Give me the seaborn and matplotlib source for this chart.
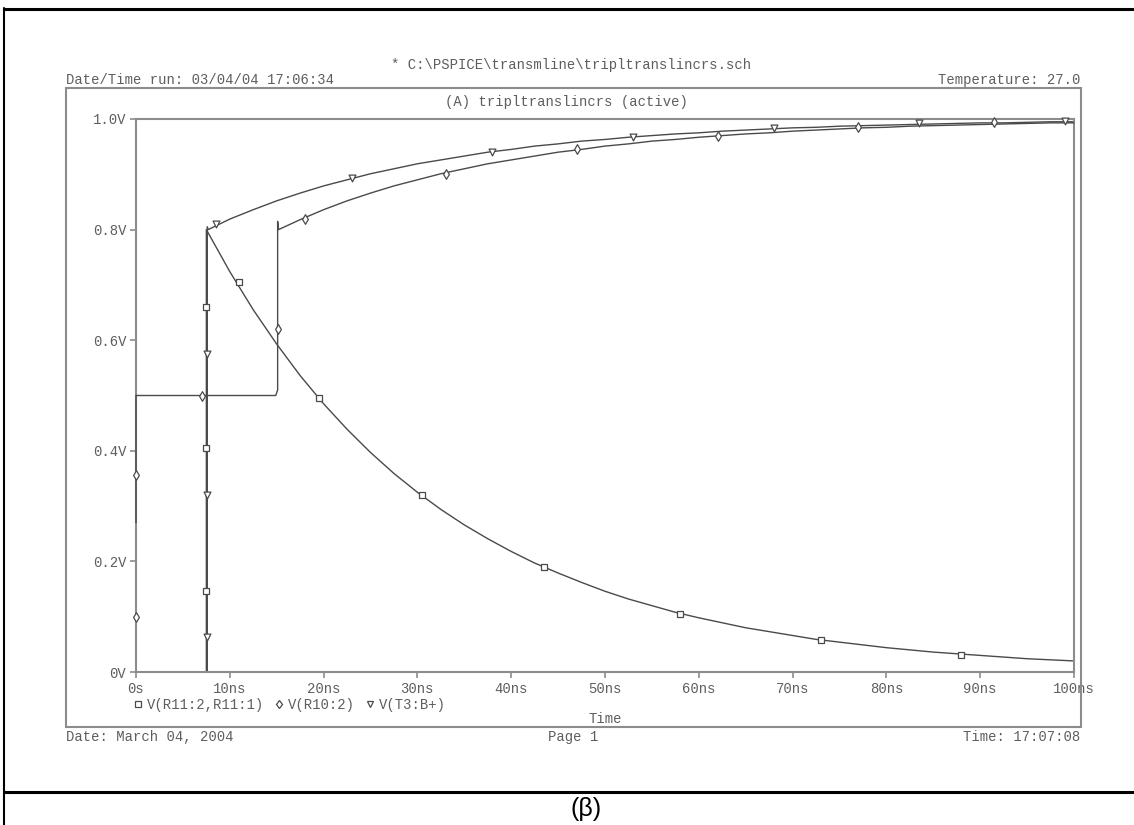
import matplotlib
matplotlib.use("Agg")
import matplotlib.pyplot as plt
from matplotlib.lines import Line2D
from matplotlib.patches import Rectangle
import seaborn as sns
import pandas as pd

# ---- trace data (time in ns, voltage in V) ----
t_r11 = [0.0, 7.5, 7.5, 10.0, 12.5, 15.0, 17.5, 20.0, 22.5, 25.0, 27.5, 30.0, 32.5, 35.0,
         37.5, 40.0, 42.5, 45.0, 47.5, 50.0, 52.5, 55.0, 57.5, 60.0, 62.5, 65.0, 67.5,
         70.0, 72.5, 75.0, 77.5, 80.0, 82.5, 85.0, 87.5, 90.0, 92.5, 95.0, 97.5, 100.0]
v_r11 = [0.0, 0.0, 0.800, 0.724, 0.655, 0.593, 0.536, 0.485, 0.439, 0.397, 0.359, 0.325,
         0.294, 0.266, 0.241, 0.218, 0.197, 0.179, 0.162, 0.146, 0.132, 0.120, 0.108,
         0.098, 0.089, 0.080, 0.073, 0.066, 0.059, 0.054, 0.049, 0.044, 0.040, 0.036,
         0.033, 0.030, 0.027, 0.024, 0.022, 0.020]

t_r10 = [0.0, 0.0, 14.9, 15.1, 15.1, 15.2, 17.5, 20.0, 22.5, 25.0, 27.5, 30.0, 32.5, 35.0,
         37.5, 40.0, 42.5, 45.0, 47.5, 50.0, 52.5, 55.0, 57.5, 60.0, 62.5, 65.0, 67.5,
         70.0, 72.5, 75.0, 77.5, 80.0, 82.5, 85.0, 87.5, 90.0, 92.5, 95.0, 97.5, 100.0]
v_r10 = [0.27, 0.500, 0.500, 0.510, 0.815, 0.800, 0.818, 0.836, 0.852, 0.866, 0.879, 0.890,
         0.901, 0.910, 0.919, 0.926, 0.933, 0.940, 0.945, 0.951, 0.955, 0.960, 0.963,
         0.967, 0.970, 0.973, 0.975, 0.978, 0.980, 0.982, 0.984, 0.985, 0.987, 0.988,
         0.989, 0.990, 0.991, 0.992, 0.993, 0.993]

t_t3 = [0.0, 7.6, 7.6, 7.7, 10.0, 12.5, 15.0, 17.5, 20.0, 22.5, 25.0, 27.5, 30.0, 32.5,
        35.0, 37.5, 40.0, 42.5, 45.0, 47.5, 50.0, 52.5, 55.0, 57.5, 60.0, 62.5, 65.0,
        67.5, 70.0, 72.5, 75.0, 77.5, 80.0, 82.5, 85.0, 87.5, 90.0, 92.5, 95.0, 97.5, 100.0]
v_t3 = [0.0, 0.0, 0.805, 0.800, 0.819, 0.836, 0.852, 0.866, 0.879, 0.890, 0.901, 0.910,
        0.919, 0.926, 0.933, 0.940, 0.945, 0.951, 0.955, 0.960, 0.963, 0.967, 0.970,
        0.973, 0.975, 0.978, 0.980, 0.982, 0.984, 0.985, 0.987, 0.988, 0.989, 0.990,
        0.991, 0.992, 0.993, 0.993, 0.994, 0.995, 0.995]

# symbol positions along each trace
mk_r11_t = [7.5, 7.5, 7.5, 11.0, 19.5, 30.5, 43.5, 58.0, 73.0, 88.0]
mk_r11_v = [0.147, 0.405, 0.660, 0.705, 0.495, 0.320, 0.190, 0.105, 0.057, 0.030]
mk_r10_t = [0.0, 0.0, 7.0, 15.1, 18.0, 33.0, 47.0, 62.0, 77.0, 91.5]
mk_r10_v = [0.100, 0.357, 0.500, 0.620, 0.820, 0.900, 0.945, 0.970, 0.985, 0.995]
mk_t3_t = [7.6, 7.6, 7.6, 8.5, 23.0, 38.0, 53.0, 68.0, 83.5, 99.0]
mk_t3_v = [0.063, 0.320, 0.575, 0.810, 0.893, 0.941, 0.968, 0.984, 0.992, 0.996]

trace_names = ["V(R11:2,R11:1)", "V(R10:2)", "V(T3:B+)"]
trace_markers = ["s", "d", "v"]

x_ticks = [0, 10, 20, 30, 40, 50, 60, 70, 80, 90, 100]
x_labels = ["0s", "10ns", "20ns", "30ns", "40ns", "50ns", "60ns", "70ns", "80ns", "90ns", "100ns"]
y_ticks = [0.0, 0.2, 0.4, 0.6, 0.8, 1.0]
y_labels = ["0V", "0.2V", "0.4V", "0.6V", "0.8V", "1.0V"]

# ---- styling ----
sns.set_theme(style="white")
plt.rcParams["font.family"] = ["Liberation Mono", "DejaVu Sans Mono"]
TXT = "#5e5e5e"
FRAME = "#8c8c8c"
TRACE = "#4a4a4a"
FS = 10

W, H = 1134, 825
fig = plt.figure(figsize=(W / 100, H / 100), dpi=100)
fig.patch.set_facecolor("white")


def fx(px):
    return px / W


def fy(py):
    return 1 - py / H


ax = fig.add_axes([fx(136), fy(672), fx(1074) - fx(136), fy(119) - fy(672)])
ax.set_facecolor("white")

traces = [(t_r11, v_r11), (t_r10, v_r10), (t_t3, v_t3)]
marks = [(mk_r11_t, mk_r11_v), (mk_r10_t, mk_r10_v), (mk_t3_t, mk_t3_v)]
line_z = [2, 3, 2]

for (tt, vv), (mt, mv), m, z in zip(traces, marks, trace_markers, line_z):
    df = pd.DataFrame({"t": tt, "v": vv})
    sns.lineplot(data=df, x="t", y="v", sort=False, estimator=None, ax=ax,
                 color=TRACE, lw=1.0, clip_on=False, zorder=z)
    dm = pd.DataFrame({"t": mt, "v": mv})
    sns.scatterplot(data=dm, x="t", y="v", ax=ax, marker=m, s=24,
                    facecolor="white", edgecolor=TRACE, linewidth=0.9,
                    zorder=5, clip_on=False)

ax.set_xlim(0, 100)
ax.set_ylim(0, 1.0)
ax.set_xticks(x_ticks)
ax.set_xticklabels(x_labels)
ax.set_yticks(y_ticks)
ax.set_yticklabels(y_labels)
ax.set_xlabel("")
ax.set_ylabel("")
for s in ax.spines.values():
    s.set_visible(True)
    s.set_color(FRAME)
    s.set_linewidth(1.5)
ax.tick_params(axis="both", direction="out", length=4, width=1.2, color=FRAME,
               labelcolor=TXT, labelsize=FS, pad=3)
ax.tick_params(axis="x", bottom=True)
ax.tick_params(axis="y", left=True)

# legend row beneath the time axis
handles = [Line2D([], [], linestyle="none", marker=m, markersize=4.5,
                  markerfacecolor="white", markeredgecolor=TRACE, markeredgewidth=0.9)
           for m in trace_markers]
leg = fig.legend(handles, trace_names, loc="center left",
                 bbox_to_anchor=(fx(134), fy(705)), ncol=3, frameon=False,
                 handlelength=0.6, handletextpad=0.35, columnspacing=0.75,
                 borderpad=0, borderaxespad=0, fontsize=FS)
for t in leg.get_texts():
    t.set_color(TXT)

# page frame
fig.add_artist(Rectangle((fx(66), fy(727)), fx(1081) - fx(66), fy(88) - fy(727),
                         transform=fig.transFigure, fill=False, edgecolor=FRAME, lw=1.5))

# header / footer text
fig.text(fx(571), fy(65), "* C:\\PSPICE\\transmline\\tripltranslincrs.sch",
         ha="center", va="center", fontsize=FS, color=TXT)
fig.text(fx(66), fy(80), "Date/Time run: 03/04/04 17:06:34",
         ha="left", va="center", fontsize=FS, color=TXT)
fig.text(fx(1080), fy(80), "Temperature: 27.0",
         ha="right", va="center", fontsize=FS, color=TXT)
fig.text(fx(566), fy(102), "(A) tripltranslincrs (active)",
         ha="center", va="center", fontsize=FS, color=TXT)
fig.text(fx(605), fy(719), "Time", ha="center", va="center", fontsize=FS, color=TXT)
fig.text(fx(66), fy(737), "Date: March 04, 2004",
         ha="left", va="center", fontsize=FS, color=TXT)
fig.text(fx(573), fy(737), "Page 1", ha="center", va="center", fontsize=FS, color=TXT)
fig.text(fx(1080), fy(737), "Time: 17:07:08",
         ha="right", va="center", fontsize=FS, color=TXT)

# surrounding table rules and caption
fig.add_artist(Line2D([fx(4), 1], [fy(9), fy(9)], transform=fig.transFigure,
                      color="black", lw=2.2))
fig.add_artist(Line2D([fx(4), 1], [fy(792), fy(792)], transform=fig.transFigure,
                      color="black", lw=2.2))
fig.add_artist(Line2D([fx(4), fx(4)], [fy(8), 0], transform=fig.transFigure,
                      color="black", lw=1.5))
fig.text(fx(586), fy(809), "(β)", ha="center", va="center", fontsize=18,
         color="black", family=["Liberation Sans Narrow", "Liberation Sans", "DejaVu Sans"])

fig.savefig("out.png", dpi=100, facecolor="white")
